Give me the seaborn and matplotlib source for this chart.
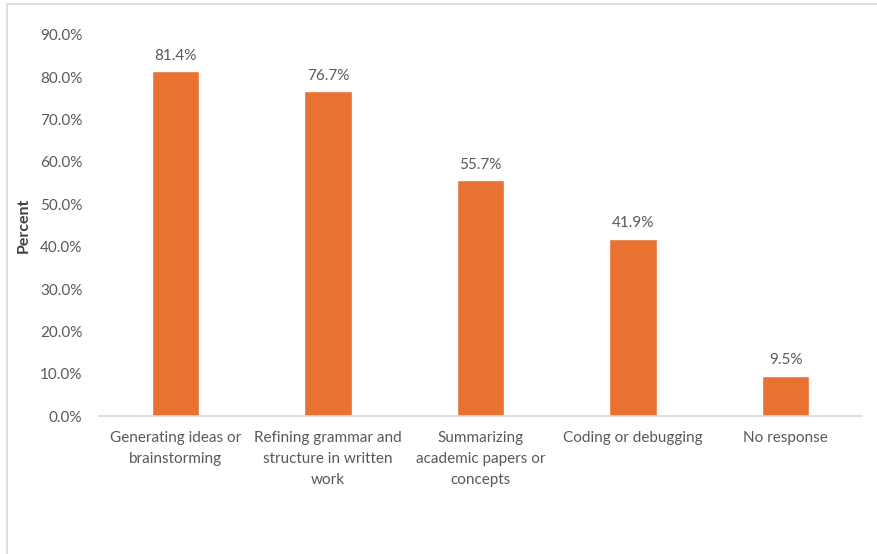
import numpy as np
import pandas as pd
import matplotlib
matplotlib.use('Agg')
import matplotlib.pyplot as plt
import seaborn as sns
from matplotlib.ticker import PercentFormatter

# 数据
categories = ['Generating ideas or\nbrainstorming',
              'Refining grammar and\nstructure in written\nwork',
              'Summarizing\nacademic papers or\nconcepts',
              'Coding or debugging',
              'No response']
percents = [81.4, 76.7, 55.7, 41.9, 9.5]
yticks = [0, 10, 20, 30, 40, 50, 60, 70, 80, 90]

df = pd.DataFrame({'category': categories, 'percent': percents})

sns.set_style("white")
plt.rcParams['font.family'] = ['Lato', 'DejaVu Sans']

text_color = '#595959'
bar_color = '#E97132'

fig = plt.figure(figsize=(8.78, 5.54), dpi=100)
ax = fig.add_axes([0.1128, 0.249, 0.869, 0.688])

sns.barplot(data=df, x='category', y='percent', color=bar_color,
            width=0.31, saturation=1, ax=ax)

ax.set_xlim(-0.5, 4.5)
ax.set_ylim(0, 90)
ax.set_yticks(yticks)
ax.yaxis.set_major_formatter(PercentFormatter(decimals=1))

# 数据标签
for i, v in enumerate(percents):
    ax.annotate(f'{v:.1f}%', (i, v), xytext=(0, 6), textcoords='offset points',
                ha='center', va='bottom', fontsize=11, color=text_color)

ax.set_xlabel('')
ax.set_ylabel('Percent', fontsize=11.5, fontweight='bold', color='#404040', labelpad=7)
ax.tick_params(axis='both', length=0, labelsize=11, labelcolor=text_color)
ax.tick_params(axis='x', pad=11)
ax.tick_params(axis='y', pad=12)
for lab in ax.get_xticklabels():
    lab.set_linespacing(1.62)

for s in ['top', 'right', 'left']:
    ax.spines[s].set_visible(False)
ax.spines['bottom'].set_color('#D9D9D9')
ax.spines['bottom'].set_linewidth(1.2)

# 图表外框（只看到上边和左边）
fig.add_artist(plt.Line2D([7 / 878, 7 / 878], [0, 1 - 4 / 554], color='#D9D9D9', lw=1.2))
fig.add_artist(plt.Line2D([7 / 878, 1], [1 - 4 / 554, 1 - 4 / 554], color='#D9D9D9', lw=1.2))

plt.savefig('out.png', dpi=100)
